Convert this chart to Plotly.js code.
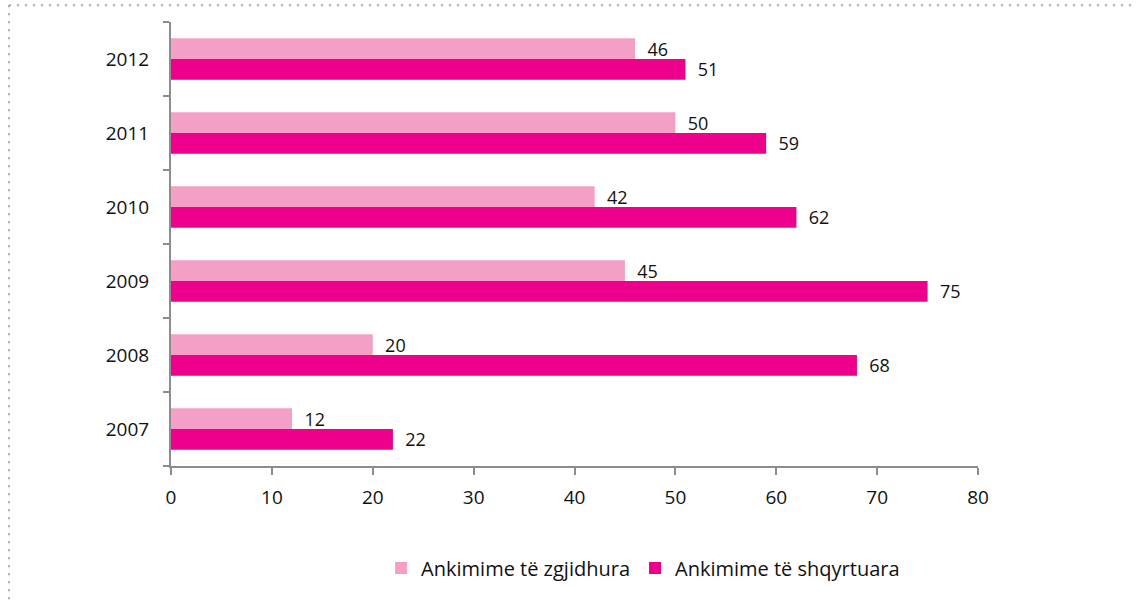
<!DOCTYPE html>
<html>
<head>
<meta charset="utf-8">
<script src="https://cdn.plot.ly/plotly-3.0.1.min.js"></script>
<style>html,body{margin:0;padding:0;background:#fff;}#chart{width:1136px;height:600px;}</style>
</head>
<body>
<div id="chart"></div>
<script>
var years = ['2007', '2008', '2009', '2010', '2011', '2012'];
var zgjidhura = [12, 20, 45, 42, 50, 46];
var shqyrtuara = [22, 68, 75, 62, 59, 51];
var seriesNames = ['Ankimime të zgjidhura', 'Ankimime të shqyrtuara'];
var xTicks = [0, 10, 20, 30, 40, 50, 60, 70, 80];

var labelFont = {family: 'Open Sans, DejaVu Sans, sans-serif', size: 18, color: '#111'};
var tickFont = {family: 'Open Sans, DejaVu Sans, sans-serif', size: 19, color: '#111'};

var traces = [
  {
    type: 'bar', orientation: 'h', name: seriesNames[1],
    y: years, x: shqyrtuara,
    marker: {color: '#EC008C'},
    texttemplate: '\u00a0\u00a0%{x}', textposition: 'outside',
    textfont: labelFont, cliponaxis: false, constraintext: 'none',
    hoverinfo: 'x+name'
  },
  {
    type: 'bar', orientation: 'h', name: seriesNames[0],
    y: years, x: zgjidhura,
    marker: {color: '#F4A0C6'},
    texttemplate: '\u00a0\u00a0%{x}', textposition: 'outside',
    textfont: labelFont, cliponaxis: false, constraintext: 'none',
    hoverinfo: 'x+name'
  }
];

var layout = {
  width: 1136, height: 600,
  margin: {l: 171, r: 158, t: 22, b: 130},
  paper_bgcolor: '#fff', plot_bgcolor: '#fff',
  barmode: 'group', bargap: 0.44, bargroupgap: 0,
  showlegend: true,
  legend: {
    orientation: 'h', traceorder: 'reversed',
    x: 0.585, xanchor: 'center', y: -0.23, yanchor: 'middle',
    font: {family: 'Open Sans, DejaVu Sans, sans-serif', size: 20, color: '#111'},
    itemwidth: 30
  },
  xaxis: {
    range: [0, 80], tickvals: xTicks, ticktext: xTicks.map(String),
    showgrid: false, zeroline: false,
    showline: true, linecolor: '#8c8c8c', linewidth: 2,
    ticks: 'outside', ticklen: 7, tickcolor: '#8c8c8c', tickwidth: 2,
    ticklabelstandoff: 6,
    tickfont: tickFont,
    fixedrange: true
  },
  yaxis: {
    type: 'category', categoryorder: 'array', categoryarray: years,
    showgrid: false, zeroline: false,
    showline: true, linecolor: '#8c8c8c', linewidth: 2,
    ticks: 'outside', tickson: 'boundaries', ticklen: 6, tickcolor: '#8c8c8c', tickwidth: 2,
    ticklabelstandoff: 16,
    tickfont: tickFont,
    fixedrange: true
  },
  shapes: [
    {type: 'line', xref: 'paper', yref: 'paper', x0: (9 - 171) / 807, x1: (1140 - 171) / 807,
     y0: (470 - 5) / 448, y1: (470 - 5) / 448, line: {color: '#aaaaaa', width: 2, dash: '2px,6px'}},
    {type: 'line', xref: 'paper', yref: 'paper', x0: (9 - 171) / 807, x1: (9 - 171) / 807,
     y0: (470 - 5) / 448, y1: (470 - 605) / 448, line: {color: '#aaaaaa', width: 2, dash: '2px,6px'}}
  ]
};

Plotly.newPlot('chart', traces, layout, {displayModeBar: false, staticPlot: true});
</script>
</body>
</html>
